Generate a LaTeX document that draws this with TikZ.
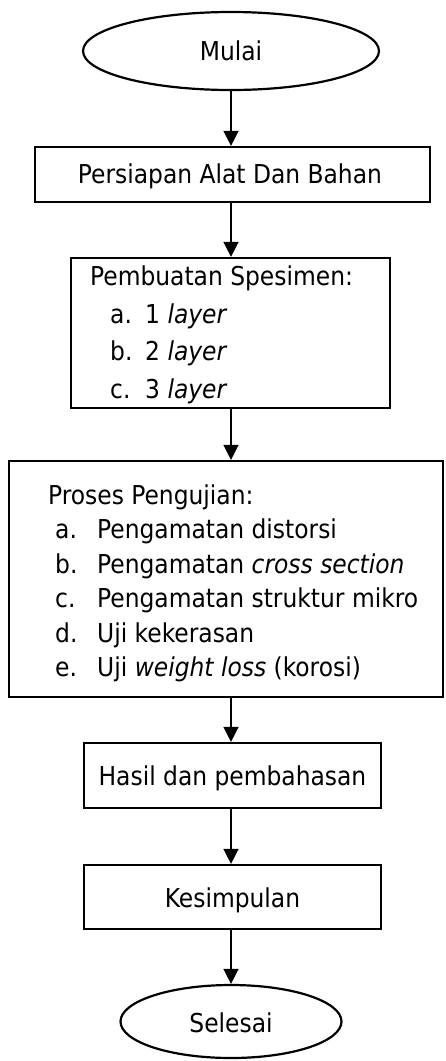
\documentclass[tikz,border=0pt]{standalone}
\usepackage{fontspec}
\setmainfont{DejaVu Sans Condensed}
\usetikzlibrary{arrows.meta,shapes.geometric}
\begin{document}
\begin{tikzpicture}[x=1pt,y=-1pt,
  box/.style={draw=black,line width=2.2pt,rectangle,inner sep=0pt},
  oval/.style={draw=black,line width=2.2pt,ellipse,inner sep=0pt},
  conn/.style={draw=black,line width=1.4pt,-{Triangle[width=15pt,length=15pt]}},
  txt/.style={inner sep=0pt,font=\fontsize{26}{35}\selectfont},
  ctxt/.style={txt,anchor=base},
  ltxt/.style={txt,anchor=base west}]
\useasboundingbox[fill=white] (0,0) rectangle (445,1061);
% shapes
\node[oval,minimum width=296pt,minimum height=78pt] (start) at (231,51) {};
\node[box,minimum width=395pt,minimum height=55pt] (prep) at (232.5,174.5) {};
\node[box,minimum width=319pt,minimum height=150pt] (spec) at (230.5,333) {};
\node[box,minimum width=434pt,minimum height=236pt] (test) at (226,579) {};
\node[box,minimum width=297pt,minimum height=65pt] (res) at (232.5,775.5) {};
\node[box,minimum width=297pt,minimum height=64pt] (conc) at (232.5,897) {};
\node[oval,minimum width=221pt,minimum height=73pt] (stop) at (231,1021.5) {};
% texts
\node[ctxt] (tstart) at (231,60) {Mulai};
\node[ctxt] (tprep) at (230,183) {Persiapan Alat Dan Bahan};
\node[ltxt] (ts0) at (90,285) {Pembuatan Spesimen:};
\node[ltxt] (ts1a) at (110,323) {a.};
\node[ltxt] (ts1b) at (145,323) {1 \textit{layer}};
\node[ltxt] (ts2a) at (110,360) {b.};
\node[ltxt] (ts2b) at (145,360) {2 \textit{layer}};
\node[ltxt] (ts3a) at (110,398) {c.};
\node[ltxt] (ts3b) at (145,398) {3 \textit{layer}};
\node[ltxt] (tt0) at (48,504) {Proses Pengujian:};
\node[ltxt] (tt1a) at (55,538.5) {a.};
\node[ltxt] (tt1b) at (97,538.5) {Pengamatan distorsi};
\node[ltxt] (tt2a) at (55,573) {b.};
\node[ltxt] (tt2b) at (97,573) {Pengamatan \textit{cross section}};
\node[ltxt] (tt3a) at (55,607.5) {c.};
\node[ltxt] (tt3b) at (97,607.5) {Pengamatan struktur mikro};
\node[ltxt] (tt4a) at (55,642) {d.};
\node[ltxt] (tt4b) at (97,642) {Uji kekerasan};
\node[ltxt] (tt5a) at (55,676.5) {e.};
\node[ltxt] (tt5b) at (97,676.5) {Uji \textit{weight loss} (korosi)};
\node[ctxt] (tres) at (232.5,785) {Hasil dan pembahasan};
\node[ctxt] (tconc) at (232.5,907) {Kesimpulan};
\node[ctxt] (tstop) at (231,1032) {Selesai};
% connectors
\draw[conn] (start.south) -- (start.south |- prep.north);
\draw[conn] (start.south |- prep.south) -- (start.south |- spec.north);
\draw[conn] (start.south |- spec.south) -- (start.south |- test.north);
\draw[conn] (start.south |- test.south) -- (start.south |- res.north);
\draw[conn] (start.south |- res.south) -- (start.south |- conc.north);
\draw[conn] (start.south |- conc.south) -- (stop.north);
\end{tikzpicture}
\end{document}
